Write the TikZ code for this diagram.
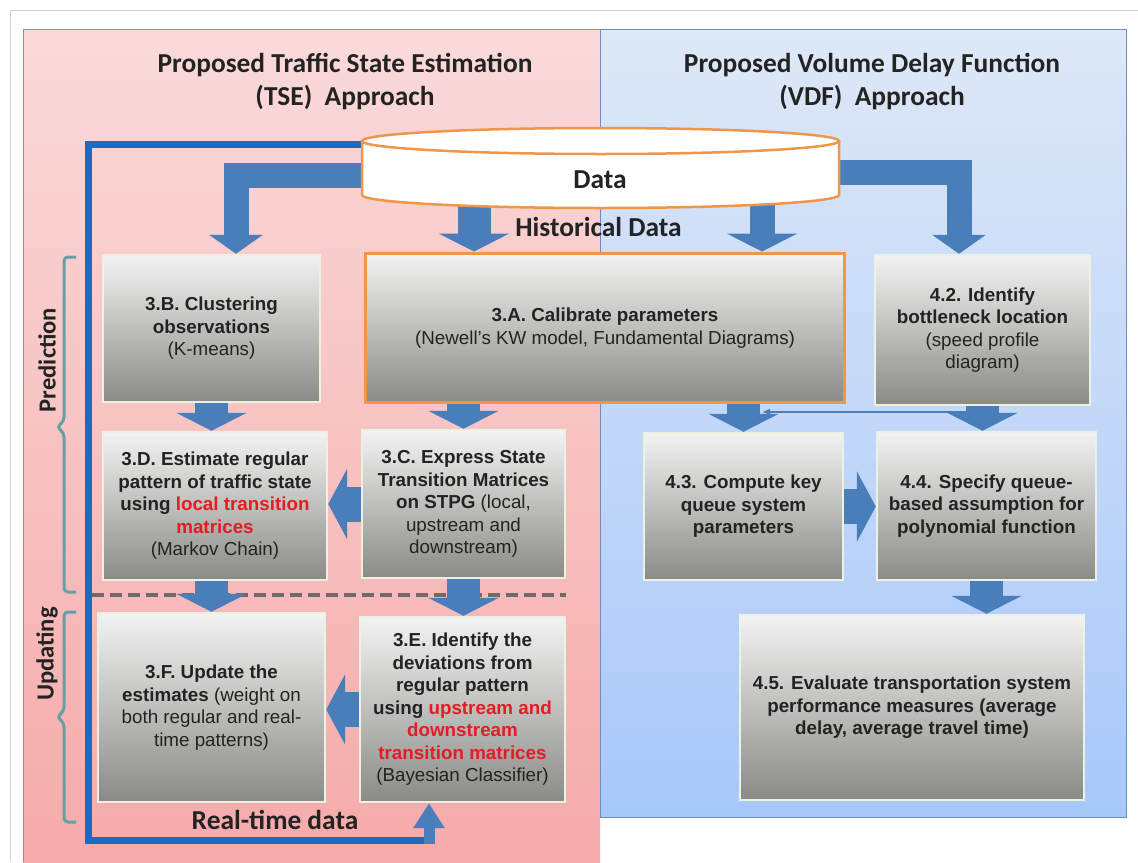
\documentclass[tikz,border=0pt]{standalone}
\usepackage{fontspec}
\setmainfont{Liberation Sans}
\newfontfamily\calfont{Carlito}
\usetikzlibrary{arrows.meta,calc}
\definecolor{hl}{RGB}{228,28,36}
\definecolor{arrblue}{RGB}{74,126,187}
\definecolor{fbblue}{RGB}{22,108,200}
\definecolor{brk}{RGB}{100,160,165}
\definecolor{boxedge}{RGB}{236,242,226}
\definecolor{cylorange}{RGB}{240,150,72}
\definecolor{pinktop}{RGB}{250,218,218}
\definecolor{pinkbot}{RGB}{246,170,170}
\definecolor{pinkedge}{RGB}{200,120,120}
\definecolor{bluetop}{RGB}{222,232,247}
\definecolor{bluebot}{RGB}{168,200,250}
\definecolor{blueedge}{RGB}{110,140,190}
\definecolor{boxtop}{RGB}{243,243,243}
\definecolor{boxbot}{RGB}{138,138,134}
\definecolor{ink}{RGB}{35,35,35}
\tikzset{
    stepbox/.style={top color=boxtop, bottom color=boxbot, draw=boxedge,
        line width=0.05cm, align=center, inner sep=2pt, text=ink,
        font=\fontsize{10.7}{12.8}\selectfont},
    fatarrow/.style={draw=arrblue, line width=0.66cm,
        -{Triangle[length=0.36cm,width=1.4cm]}},
    sidearrow/.style={draw=arrblue, line width=0.7cm,
        -{Triangle[length=0.38cm,width=1.4cm]}},
    slimarrow/.style={draw=arrblue, line width=0.5cm, line join=miter,
        -{Triangle[length=0.38cm,width=1.06cm]}},
    title/.style={font=\calfont\bfseries\fontsize{15.6}{18.8}\selectfont,
        align=center, text=ink},
    lbl/.style={font=\calfont\bfseries\fontsize{15.6}{18}\selectfont,
        text=ink, inner sep=0pt},
    tag/.style={font=\calfont\bfseries\fontsize{14}{16}\selectfont,
        rotate=90, text=ink, inner sep=0pt},
    bracket/.style={draw=brk, line width=0.06cm, rounded corners=0.08cm},
    divider/.style={draw=gray!85!black, line width=0.08cm,
        dash pattern=on 0.24cm off 0.12cm},
}
\begin{document}
\begin{tikzpicture}[x=0.02cm,y=-0.02cm]
    \useasboundingbox (0,0) rectangle (1138,862);
    \fill[white] (0,0) rectangle (1138,862);
    \draw[gray!35] (10,862) -- (10,10) -- (1138,10);
    \shade[top color=pinktop, bottom color=pinkbot] (23,29) rectangle (600,862);
    \draw[pinkedge] (23,862) -- (23,29) -- (600,29);
    \shadedraw[top color=bluetop, bottom color=bluebot, draw=blueedge] (600,29) rectangle (1126,817);

    \node[title] (tse) at (345,81.5) {Proposed Traffic State Estimation\\(TSE)~ Approach};
    \node[title] (vdf) at (872,81.5) {Proposed Volume Delay Function\\(VDF)~ Approach};

    \draw[divider] (92,595) -- (566,595);
    \draw[bracket] (76,257) -- (64,257) -- (64,421) -- (57,427) -- (64,433) -- (64,592) -- (76,592);
    \draw[bracket] (76,612) -- (64,612) -- (64,711) -- (57,717) -- (64,723) -- (64,822) -- (76,822);
    \node[tag] (pred) at (47,360) {Prediction};
    \node[tag] (upd) at (47,654) {Updating};

    \node[stepbox, minimum width=4.34cm, minimum height=2.94cm] (b3B) at (211.5,328.5)
        {\textbf{3.B. Clustering}\\\textbf{observations}\\(K-means)};
    \node[stepbox, draw=cylorange, line width=0.06cm, minimum width=9.6cm, minimum height=3cm] (b3A) at (605,328)
        {\textbf{3.A. Calibrate parameters}\\(Newell’s KW model, Fundamental Diagrams)};
    \node[stepbox, minimum width=4.3cm, minimum height=3cm] (b42) at (982.5,330)
        {\textbf{4.2. Identify}\\\textbf{bottleneck location}\\(speed profile\\diagram)};
    \node[stepbox, minimum width=4.48cm, minimum height=2.96cm] (b3D) at (215,506)
        {\textbf{3.D. Estimate regular}\\\textbf{pattern of traffic state}\\\textbf{using \textcolor{hl}{local transition}}\\\textbf{\textcolor{hl}{matrices}}\\(Markov Chain)};
    \node[stepbox, minimum width=4.06cm, minimum height=2.96cm] (b3C) at (463.5,504)
        {\textbf{3.C. Express State}\\\textbf{Transition Matrices}\\\textbf{on STPG} (local,\\upstream and\\downstream)};
    \node[stepbox, minimum width=3.98cm, minimum height=2.94cm] (b43) at (743.5,506.5)
        {\textbf{4.3. Compute key}\\\textbf{queue system}\\\textbf{parameters}};
    \node[stepbox, minimum width=4.38cm, minimum height=2.96cm] (b44) at (986.5,506)
        {\textbf{4.4. Specify queue-}\\\textbf{based assumption for}\\\textbf{polynomial function}};
    \node[stepbox, minimum width=4.54cm, minimum height=3.78cm] (b3F) at (211.5,707.5)
        {\textbf{3.F. Update the}\\\textbf{estimates} (weight on\\both regular and real-\\time patterns)};
    \node[stepbox, minimum width=4.1cm, minimum height=3.7cm] (b3E) at (462.5,709.5)
        {\textbf{3.E. Identify the}\\\textbf{deviations from}\\\textbf{regular pattern}\\\textbf{using \textcolor{hl}{upstream and}}\\\textbf{\textcolor{hl}{downstream}}\\\textbf{\textcolor{hl}{transition matrices}}\\(Bayesian Classifier)};
    \node[stepbox, minimum width=6.88cm, minimum height=3.7cm] (b45) at (912,707.5)
        {\textbf{4.5. Evaluate transportation system}\\\textbf{performance measures (average}\\\textbf{delay, average travel time)}};

    \coordinate (fbsrc) at (400,144);
    \coordinate (rtin) at (429,840);
    \draw[fbblue, line width=0.14cm] (fbsrc) -| (88,840) -- ($(rtin)+(4,0)$);
    \draw[arrblue, line width=0.22cm, -{Triangle[length=0.5cm,width=0.6cm]}] ($(rtin)+(0,3.5)$) -- (rtin |- b3E.south);

    \coordinate (srcL) at (400,175);
    \coordinate (srcR) at (800,172);
    \coordinate (srcM1) at (474,200);
    \coordinate (srcM2) at (762,200);
    \draw[slimarrow] (srcL) -| ($(b3B.north)+(24.5,0)$);
    \draw[slimarrow] (srcR) -| ($(b42.north)+(-23.5,0)$);
    \draw[fatarrow] (srcM1) -- (srcM1 |- b3A.north);
    \draw[fatarrow, line width=0.5cm] (srcM2) -- (srcM2 |- b3A.north);

    \filldraw[fill=white, draw=cylorange, line width=0.05cm] (362,141) -- (362,195)
        .. controls (362,202.2) and (468.8,208) .. (600.5,208)
        .. controls (732.2,208) and (839,202.2) .. (839,195) -- (839,141);
    \filldraw[fill=white, draw=cylorange, line width=0.05cm] (600.5,141) ellipse [x radius=238.5, y radius=13];
    \node[lbl] (data) at (600,180) {Data};
    \node[lbl, anchor=west] (hist) at (515,227) {Historical Data};
    \node[lbl] (rtdata) at (275,820) {Real-time data};

    \draw[fatarrow] (b3B.south) -- (b3B.south |- b3D.north);
    \draw[fatarrow] (b3C.north |- b3A.south) -- (b3C.north);
    \draw[fatarrow] (b43.north |- b3A.south) -- (b43.north);
    \draw[fatarrow] (b42.south) -- (b42.south |- b44.north);
    \draw[sidearrow] (b3C.west) -- (b3C.west -| b3D.east);
    \draw[sidearrow] (b43.east) -- (b43.east -| b44.west);
    \draw[fatarrow] (b3F.north |- b3D.south) -- (b3F.north);
    \draw[fatarrow] (b3C.south) -- (b3C.south |- b3E.north);
    \draw[sidearrow] (b3E.west) -- (b3E.west -| b3F.east);
    \draw[fatarrow] (b44.south) -- (b44.south |- b45.north);

    \coordinate (lkR) at (966,412);
    \coordinate (lkL) at (762,412);
    \draw[arrblue, line width=0.03cm, -{Latex[length=0.16cm,width=0.14cm]}] (lkR) -- (lkL);
\end{tikzpicture}
\end{document}
